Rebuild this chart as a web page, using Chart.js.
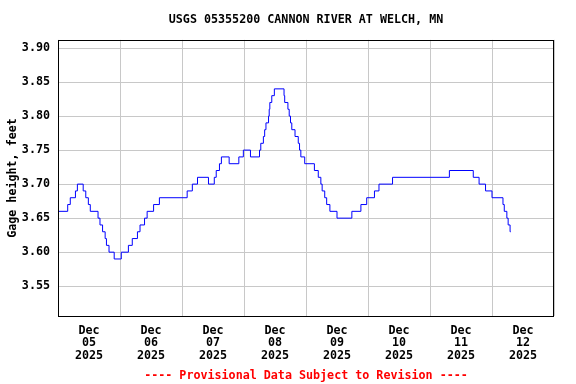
<!DOCTYPE html>
<html>
<head>
<meta charset="utf-8">
<script src="https://cdn.jsdelivr.net/npm/chart.js@4/dist/chart.umd.min.js"></script>
<style>
  html, body { margin: 0; padding: 0; background: #fff; }
  #wrap { width: 576px; height: 384px; }
</style>
</head>
<body>
<div id="wrap"><canvas id="gage" width="576" height="384"></canvas></div>
<script>
// data: hours since Dec 05 2025 00:00, gage height (feet) from that hour on
const hours = [0, 3.75, 4.75, 6.75, 7.5, 9.75, 10.75, 11.75, 12.5, 15.5, 16.25, 17.25, 18.25, 18.75, 19.75, 21.75,
  24.5, 27.25, 28.75, 30.75, 31.75, 33.5, 34.5, 37, 39.25, 50, 52, 54, 58.25, 60.5, 61.25, 62.5, 63.25, 66.25,
  70, 71.75, 74.5, 78, 78.5, 79.5, 80, 80.5, 81.5, 81.75, 82, 82.75, 83.75, 87.5, 87.75, 89, 89.5, 90, 90.5,
  91.75, 93, 93.5, 94, 95.5, 99.25, 100.75, 101.75, 102.25, 103.25, 104, 105.25, 108, 113.75, 117.25, 119.5,
  122.5, 124.25, 129.5, 151.5, 160.75, 163, 165.5, 168, 172.25, 172.75, 173.75, 174.25, 175, 175.25];
const gageHeight = [3.66, 3.67, 3.68, 3.69, 3.70, 3.69, 3.68, 3.67, 3.66, 3.65, 3.64, 3.63, 3.62, 3.61, 3.60, 3.59,
  3.60, 3.61, 3.62, 3.63, 3.64, 3.65, 3.66, 3.67, 3.68, 3.69, 3.70, 3.71, 3.70, 3.71, 3.72, 3.73, 3.74, 3.73,
  3.74, 3.75, 3.74, 3.75, 3.76, 3.77, 3.78, 3.79, 3.80, 3.81, 3.82, 3.83, 3.84, 3.83, 3.82, 3.81, 3.80, 3.79, 3.78,
  3.77, 3.76, 3.75, 3.74, 3.73, 3.72, 3.71, 3.70, 3.69, 3.68, 3.67, 3.66, 3.65, 3.66, 3.67, 3.68,
  3.69, 3.70, 3.71, 3.72, 3.71, 3.70, 3.69, 3.68, 3.67, 3.66, 3.65, 3.64, 3.63, 3.63];

const dayLabels = ['05', '06', '07', '08', '09', '10', '11', '12'];
const monthLabel = 'Dec';
const yearLabel = '2025';
const yTicks = [3.55, 3.60, 3.65, 3.70, 3.75, 3.80, 3.85, 3.90];

const FONT = { family: '"DejaVu Sans Mono", "Liberation Mono", monospace', size: 11.7, weight: 'bold', lineHeight: 1.1 };

// tick every 12 h: midnight ticks carry the grid lines, noon ticks carry the labels
const xTicks = [];
for (let h = 0; h <= dayLabels.length * 24; h += 12) xTicks.push(h);

const points = hours.map((h, i) => ({ x: h, y: gageHeight[i] }));

const frame = {
  id: 'frame',
  afterDatasetsDraw(chart) {
    const a = chart.chartArea, ctx = chart.ctx;
    ctx.save();
    ctx.strokeStyle = '#000';
    ctx.lineWidth = 1;
    ctx.strokeRect(Math.round(a.left) + 0.5, Math.round(a.top) + 0.5,
      Math.round(a.right - a.left) - 1, Math.round(a.bottom - a.top));
    ctx.restore();
  }
};

new Chart(document.getElementById('gage'), {
  type: 'line',
  data: {
    datasets: [{
      data: points,
      borderColor: '#0000ff',
      borderWidth: 1,
      pointRadius: 0,
      stepped: 'before', // hold the old value, then jump at the new point
      fill: false
    }]
  },
  options: {
    responsive: false,
    animation: false,
    layout: { padding: { top: 0, right: 22, bottom: 0, left: 0 } },
    scales: {
      x: {
        type: 'linear',
        min: 0,
        max: dayLabels.length * 24,
        afterBuildTicks: s => { s.ticks = xTicks.map(v => ({ value: v })); },
        afterFit: s => { s.height = 46; },
        grid: {
          drawTicks: false,
          color: c => (c.tick && c.tick.value % 24 === 0 ? '#c8c8c8' : 'rgba(0,0,0,0)')
        },
        border: { display: false },
        ticks: {
          autoSkip: false,
          maxRotation: 0,
          padding: 8,
          color: '#000',
          font: FONT,
          callback: v => {
            if (v % 24 !== 12) return '';
            return [monthLabel, dayLabels[(v - 12) / 24], yearLabel];
          }
        }
      },
      y: {
        min: 3.506,
        max: 3.912,
        afterBuildTicks: s => { s.ticks = yTicks.map(v => ({ value: v })); },
        afterFit: s => { s.width = 58; },
        grid: { drawTicks: false, color: '#c8c8c8' },
        border: { display: false },
        ticks: { padding: 8, color: '#000', font: FONT, callback: v => v.toFixed(2) },
        title: {
          display: true,
          text: 'Gage height, feet',
          color: '#000',
          font: FONT,
          padding: { top: 7, bottom: 0 }
        }
      }
    },
    plugins: {
      legend: { display: false },
      tooltip: { enabled: false },
      title: {
        display: true,
        text: 'USGS 05355200 CANNON RIVER AT WELCH, MN',
        color: '#000',
        font: FONT,
        fullSize: false,
        padding: { top: 14, bottom: 13 }
      },
      subtitle: {
        display: true,
        position: 'bottom',
        text: '---- Provisional Data Subject to Revision ----',
        color: '#ff0000',
        font: FONT,
        fullSize: false,
        padding: { top: 7, bottom: 2 }
      }
    }
  },
  plugins: [frame]
});
</script>
</body>
</html>
